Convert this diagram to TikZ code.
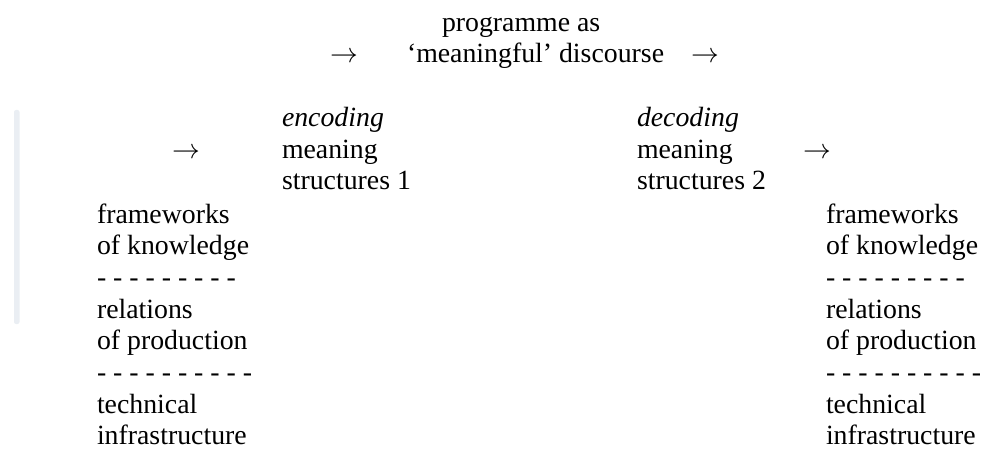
\RequirePackage{fix-cm}
\documentclass[tikz,border=0pt]{standalone}
\usepackage{fontspec}
\setmainfont{Liberation Serif}
\begin{document}
\begin{tikzpicture}[x=1pt,y=-1pt,
  txt/.style={anchor=base west, inner sep=0pt, outer sep=0pt, font=\fontsize{27.8}{31.7}\selectfont},
  arr/.style={txt},
  faint/.style={fill={rgb,255:red,234;green,238;blue,243}, draw=none, rounded corners=2pt}]
\useasboundingbox (0,0) rectangle (986,452);
% faint margin bar
\fill[faint] (14,110) rectangle (19.5,324);
% top
\node[txt] (prog) at (442,32) {programme as};
\node[txt] (disc) at (407,63) {‘meaningful’ discourse};
\node[arr] (arTL) at (330,63) {$\rightarrow$};
\node[arr] (arTR) at (691,63) {$\rightarrow$};
% encoding
\node[txt] (enc1) at (282,127) {\itshape encoding};
\node[txt] (enc2) at (282,158) {meaning};
\node[txt] (enc3) at (282,189) {structures 1};
\node[arr] (arL) at (172,158) {$\rightarrow$};
% decoding
\node[txt] (dec1) at (637,127) {\itshape decoding};
\node[txt] (dec2) at (637,158) {meaning};
\node[txt] (dec3) at (637,189) {structures 2};
\node[arr] (arR) at (803,158) {$\rightarrow$};
% left stack
\node[txt] (l1) at (97,223) {frameworks};
\node[txt] (l2) at (97,254.7) {of knowledge};
\node[txt] (l3) at (97,286.4) {- - - - - - - - -};
\node[txt] (l4) at (97,318.1) {relations};
\node[txt] (l5) at (97,349.8) {of production};
\node[txt] (l6) at (97,381.5) {- - - - - - - - - -};
\node[txt] (l7) at (97,413.2) {technical};
\node[txt] (l8) at (97,444.9) {infrastructure};
% right stack
\node[txt] (r1) at (826,223) {frameworks};
\node[txt] (r2) at (826,254.7) {of knowledge};
\node[txt] (r3) at (826,286.4) {- - - - - - - - -};
\node[txt] (r4) at (826,318.1) {relations};
\node[txt] (r5) at (826,349.8) {of production};
\node[txt] (r6) at (826,381.5) {- - - - - - - - - -};
\node[txt] (r7) at (826,413.2) {technical};
\node[txt] (r8) at (826,444.9) {infrastructure};
\end{tikzpicture}
\end{document}
